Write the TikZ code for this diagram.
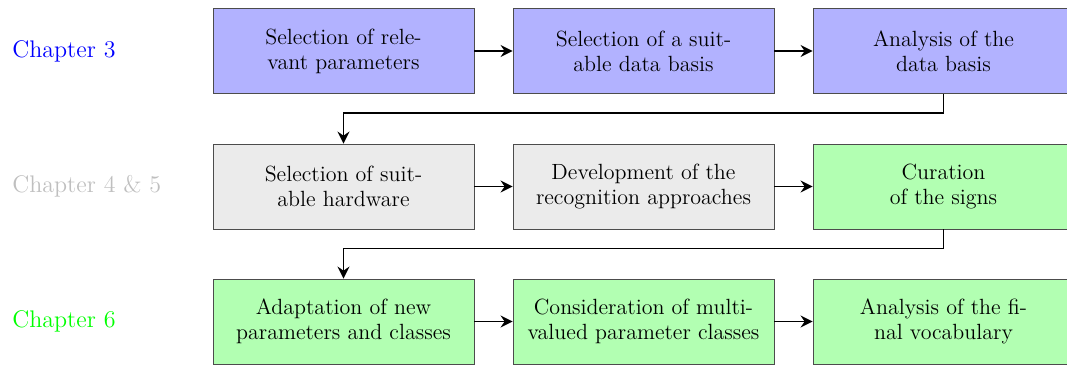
\documentclass[tikz,border=0pt]{standalone}
\usepackage{xcolor}
\usepackage{tikz}
\usetikzlibrary{arrows.meta}

\tikzset{
  stepbox/.style={draw=black!70, minimum width=130.5pt, minimum height=42.5pt,
    inner sep=2pt, align=center, font=\fontsize{11}{12.5}\selectfont},
  chlabel/.style={anchor=west, inner sep=0pt, font=\fontsize{12}{14}\selectfont},
  flow/.style={-{Stealth[length=6pt,width=6pt,inset=2pt]}, thick}
}

\begin{document}
\begin{tikzpicture}[x=0.5pt, y=-0.5pt]
\useasboundingbox (0,0) rectangle (1067,365);
% chapters
\node[chlabel, text=blue] (ch3) at (12,51) {Chapter 3};
\node[chlabel, text=black!25] (ch45) at (12,186.5) {Chapter 4 \& 5};
\node[chlabel, text=green] (ch6) at (12,321.5) {Chapter 6};
% boxes
\node[stepbox, fill=blue!30] (a1) at (343.5,51) {Selection of rele-\\vant parameters};
\node[stepbox, fill=blue!30] (a2) at (643.5,51) {Selection of a suit-\\able data basis};
\node[stepbox, fill=blue!30] (a3) at (943.5,51) {Analysis of the\\data basis};
\node[stepbox, fill=black!8] (b1) at (343.5,186.5) {Selection of suit-\\able hardware};
\node[stepbox, fill=black!8] (b2) at (643.5,186.5) {Development of the\\recognition approaches};
\node[stepbox, fill=green!30] (b3) at (943.5,186.5) {Curation\\of the signs};
\node[stepbox, fill=green!30] (c1) at (343.5,321.5) {Adaptation of new\\parameters and classes};
\node[stepbox, fill=green!30] (c2) at (643.5,321.5) {Consideration of multi-\\valued parameter classes};
\node[stepbox, fill=green!30] (c3) at (943.5,321.5) {Analysis of the fi-\\nal vocabulary};
% edges
\foreach \r in {a,b,c} {
  \draw[flow] (\r1.east) -- (\r2.west);
  \draw[flow] (\r2.east) -- (\r3.west);
}
\draw[flow] (a3.south) -- ++(0,19) -| (b1.north);
\draw[flow] (b3.south) -- ++(0,19) -| (c1.north);
\end{tikzpicture}
\end{document}
